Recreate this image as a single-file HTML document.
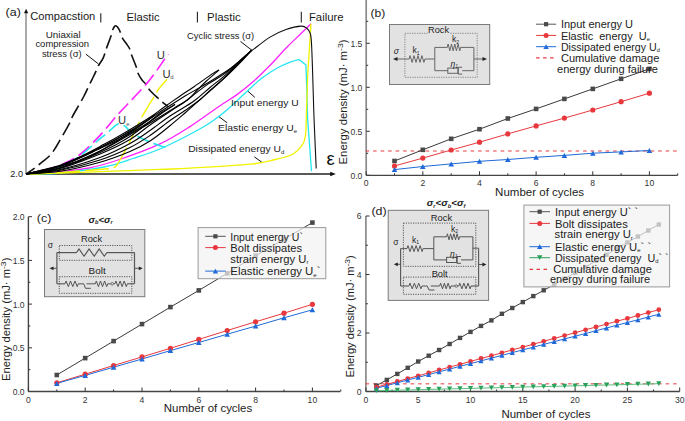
<!DOCTYPE html>
<html><head><meta charset="utf-8"><style>
html,body{margin:0;padding:0;background:#fff;overflow:hidden}
svg{display:block}
text{font-family:"Liberation Sans",sans-serif;white-space:pre}
</style></head><body>
<svg width="685" height="421" viewBox="0 0 685 421">
<rect width="685" height="421" fill="#fff"/>
<line x1="26" y1="174" x2="26" y2="12.5" stroke="#9a9a9a" stroke-width="1.7" />
<polygon points="26.1,8.8 24,13.2 28.2,13.2" fill="#111"/>
<line x1="26" y1="174" x2="331" y2="174" stroke="#222" stroke-width="1.3" />
<polygon points="335.8,174 330.2,171.8 330.2,176.2" fill="#111"/>
<text x="5.6" y="15.8" font-size="10" fill="#1a1a1a" textLength="15.27" lengthAdjust="spacingAndGlyphs" >(a)</text>
<text x="30.2" y="19.9" font-size="10.2" fill="#1a1a1a" textLength="65.16" lengthAdjust="spacingAndGlyphs" >Compacstion</text>
<line x1="100.8" y1="13.2" x2="100.8" y2="22.6" stroke="#222" stroke-width="1.1" />
<text x="126.4" y="21.0" font-size="10.2" fill="#1a1a1a" textLength="33.24" lengthAdjust="spacingAndGlyphs" >Elastic</text>
<line x1="197.4" y1="11.8" x2="197.4" y2="22.6" stroke="#222" stroke-width="1.1" />
<text x="207.0" y="21.0" font-size="10.2" fill="#1a1a1a" textLength="33.73" lengthAdjust="spacingAndGlyphs" >Plastic</text>
<line x1="301.3" y1="11.8" x2="301.3" y2="22.4" stroke="#222" stroke-width="1.1" />
<text x="308.9" y="20.9" font-size="10.2" fill="#1a1a1a" textLength="34.71" lengthAdjust="spacingAndGlyphs" >Failure</text>
<text x="10.3" y="177.2" font-size="8.5" fill="#1a1a1a" textLength="12.66" lengthAdjust="spacingAndGlyphs" >2.0</text>
<text x="63.15" y="37.8" font-size="9" fill="#1a1a1a" text-anchor="middle" textLength="34.94" lengthAdjust="spacingAndGlyphs" >Uniaxial</text>
<text x="35.4" y="47.0" font-size="9" fill="#1a1a1a" textLength="53.61" lengthAdjust="spacingAndGlyphs" >compression</text>
<text x="41.9" y="57.0" font-size="9" fill="#1a1a1a" textLength="39.82" lengthAdjust="spacingAndGlyphs" >stress (σ)</text>
<text x="187.1" y="38.5" font-size="9" fill="#1a1a1a" textLength="67.0" lengthAdjust="spacingAndGlyphs" >Cyclic stress (σ)</text>
<line x1="85.8" y1="54.1" x2="98.3" y2="63.8" stroke="#111" stroke-width="1" />
<line x1="240.5" y1="41.4" x2="252" y2="50.4" stroke="#111" stroke-width="1" />
<line x1="247.7" y1="91.1" x2="254.8" y2="97.3" stroke="#111" stroke-width="1" />
<line x1="218.5" y1="116.3" x2="227.2" y2="122.9" stroke="#111" stroke-width="1" />
<line x1="254.3" y1="156.8" x2="262.3" y2="162.6" stroke="#111" stroke-width="1" />
<path d="M26.0,174.0 C31.7,173.6 49.5,172.6 60.0,171.6 C70.5,170.6 79.3,169.9 89.0,168.0 C98.7,166.1 106.2,164.0 118.0,160.0 C129.8,156.0 148.0,149.5 160.0,143.9 C172.0,138.3 180.0,133.0 190.0,126.6 C200.0,120.2 212.2,111.0 220.0,105.7 C227.8,100.4 231.0,98.9 236.6,94.9 C242.2,90.9 247.8,86.5 253.3,81.6 C258.9,76.7 264.3,71.2 269.9,65.5 C275.4,59.8 281.6,52.7 286.6,47.5 C291.6,42.3 295.9,38.5 300.0,34.5 C304.1,30.6 309.2,25.6 311.0,23.8" fill="none" stroke="#ff22ff" stroke-width="1.3" stroke-linejoin="round" />
<path d="M26.0,174.0 C31.7,173.8 47.0,174.2 60.0,173.0 C73.0,171.8 91.8,169.4 104.0,167.0 C116.2,164.6 123.5,161.6 133.0,158.5 C142.5,155.4 150.2,153.2 161.0,148.5 C171.8,143.8 189.2,134.8 198.0,130.0 C206.8,125.2 209.1,123.4 214.0,120.0 C218.9,116.6 222.3,114.0 227.5,109.5 C232.7,105.0 239.3,98.4 245.0,93.2 C250.7,88.0 256.1,82.6 261.6,78.3 C267.1,74.0 273.2,70.3 278.2,67.5 C283.2,64.7 288.0,63.0 291.5,61.6 C295.0,60.2 297.9,59.8 299.2,59.4" fill="none" stroke="#22e6f0" stroke-width="1.3" stroke-linejoin="round" />
<polyline points="299.2,59.4 305.9,64.9 306.3,75.0 307.7,120.0 311.5,171.3" fill="none" stroke="#22e6f0" stroke-width="1.3" stroke-linejoin="round" />
<path d="M26.0,174.0 C31.7,173.8 47.7,173.5 60.0,173.1 C72.3,172.7 83.3,172.2 100.0,171.6 C116.7,171.0 145.0,170.0 160.0,169.4 C175.0,168.8 175.0,169.1 190.0,168.2 C205.0,167.3 235.8,165.6 250.0,164.2 C264.2,162.8 267.9,161.2 275.0,159.5 C282.1,157.8 288.1,156.8 292.7,154.2 C297.3,151.6 300.5,147.5 302.7,144.2 C304.9,140.9 305.0,138.2 305.6,134.2 C306.2,130.2 306.1,122.4 306.2,120.0" fill="none" stroke="#f2f200" stroke-width="1.3" stroke-linejoin="round" />
<polyline points="306.2,120.0 307.7,75.0 311.0,23.8" fill="none" stroke="#f2f200" stroke-width="1.3" stroke-linejoin="round" />
<path d="M26.0,174.0 C27.1,173.3 30.3,171.3 32.6,169.6 C34.9,167.9 36.8,166.3 39.7,164.0 C42.6,161.7 47.2,158.3 49.9,155.5 C52.6,152.7 53.9,150.3 56.0,147.0 C58.1,143.7 60.1,139.8 62.4,135.9 C64.7,132.0 67.8,126.5 69.5,123.3 C71.2,120.1 71.0,119.5 72.5,116.5 C74.0,113.5 76.7,109.0 78.6,105.6 C80.5,102.2 82.3,99.3 84.0,96.0 C85.7,92.7 87.5,88.6 89.0,85.5 C90.5,82.4 91.7,80.1 93.0,77.5 C94.3,74.9 95.6,72.1 96.6,70.0 C97.6,67.9 97.8,66.8 98.8,65.0 C99.8,63.2 101.5,61.3 102.6,59.2 C103.7,57.1 104.5,54.3 105.2,52.4 C105.9,50.5 105.6,50.9 106.6,48.0 C107.6,45.1 110.4,38.0 111.4,35.0 C112.4,32.0 112.0,31.5 112.6,30.0 C113.2,28.5 114.2,26.5 115.0,26.0 C115.8,25.5 116.6,26.0 117.5,27.1 C118.4,28.2 119.8,31.0 120.6,32.8 C121.4,34.6 121.3,36.0 122.3,37.8 C123.2,39.6 125.0,41.6 126.3,43.5 C127.6,45.4 129.1,47.4 129.9,49.2 C130.7,51.0 130.2,51.2 131.3,54.2 C132.4,57.2 135.2,63.9 136.3,67.0 C137.4,70.1 136.8,70.5 137.7,72.7 C138.6,74.9 140.7,78.2 142.0,80.0 C143.3,81.8 144.5,82.4 145.6,83.8 C146.7,85.2 147.2,86.9 148.4,88.5 C149.6,90.1 151.3,91.8 153.0,93.5 C154.7,95.2 157.0,97.2 158.4,98.5 C159.8,99.8 159.8,100.0 161.3,101.3 C162.9,102.6 166.6,105.5 167.7,106.3" fill="none" stroke="#111" stroke-width="1.6" stroke-linejoin="round" stroke-dasharray="14,5.4" stroke-dashoffset="3.59"/>
<path d="M26.0,174.0 C29.2,173.3 38.8,171.7 45.0,170.0 C51.2,168.3 57.2,166.6 63.0,164.0 C68.8,161.4 74.5,158.6 80.0,154.5 C85.5,150.4 91.9,143.7 96.2,139.4 C100.5,135.1 102.3,132.8 106.0,128.5 C109.7,124.2 114.8,117.9 118.5,113.8 C122.2,109.7 123.5,108.6 128.0,103.8 C132.5,99.0 140.9,90.3 145.6,84.9 C150.3,79.5 152.9,75.7 156.0,71.5 C159.1,67.3 161.9,62.9 164.0,60.0 C166.1,57.1 167.8,55.2 168.5,54.2" fill="none" stroke="#ff22ff" stroke-width="1.6" stroke-linejoin="round" stroke-dasharray="14,5.3" stroke-dashoffset="1.74"/>
<path d="M26.0,174.0 C29.2,173.4 38.8,172.1 45.0,170.6 C51.2,169.1 57.2,167.6 63.0,165.2 C68.8,162.8 74.1,160.2 80.0,156.0 C85.9,151.8 94.5,143.3 98.6,139.8 C102.7,136.3 103.0,136.6 104.7,135.2 C106.4,133.8 107.3,132.9 109.0,131.4 C110.7,129.9 113.0,127.4 114.7,126.1 C116.5,124.8 117.7,123.7 119.5,123.8 C121.3,123.9 123.8,125.3 125.6,126.6 C127.3,127.9 127.6,129.6 130.0,131.4 C132.4,133.2 136.1,135.5 140.0,137.5 C143.9,139.5 149.1,141.8 153.5,143.5 C157.9,145.2 164.3,147.2 166.5,148.0" fill="none" stroke="#22e6f0" stroke-width="1.6" stroke-linejoin="round" stroke-dasharray="12.5,5.1" stroke-dashoffset="10.04"/>
<path d="M26.0,174.0 C31.7,173.8 49.3,173.2 60.0,172.6 C70.7,172.0 82.5,170.8 90.0,170.2 C97.5,169.6 101.7,169.3 105.0,169.0 C108.3,168.7 108.6,168.8 110.0,168.6 C111.4,168.4 112.4,168.3 113.5,167.8 C114.6,167.3 115.1,167.4 116.5,165.5 C117.9,163.6 120.2,159.7 122.0,156.5 C123.8,153.3 126.2,148.8 127.5,146.2 C128.8,143.6 128.8,143.7 130.0,141.2 C131.2,138.7 133.4,134.3 135.0,131.0 C136.6,127.7 138.5,123.8 139.6,121.5 C140.7,119.2 140.2,119.9 141.6,117.4 C143.0,114.9 145.7,110.4 148.0,106.5 C150.3,102.6 154.1,96.7 155.7,94.1 C157.3,91.5 156.3,92.3 157.4,90.8 C158.5,89.3 160.4,86.9 162.0,85.0 C163.6,83.1 166.2,80.2 167.0,79.2" fill="none" stroke="#f2f200" stroke-width="1.4" stroke-linejoin="round" stroke-dasharray="24,5" stroke-dashoffset="28.05"/>
<path d="M26.0,174.0 C31.7,172.6 51.0,168.2 60.0,165.3 C69.0,162.4 73.3,159.9 80.0,156.8 C86.7,153.7 93.3,150.1 100.0,146.5 C106.7,142.9 111.7,140.4 120.0,135.5 C128.3,130.6 142.7,121.9 150.0,117.2 C157.3,112.5 158.6,111.0 163.6,107.5 C168.6,104.0 174.7,99.7 179.8,96.2 C184.9,92.7 188.5,90.5 194.0,86.7 C199.5,82.9 208.8,76.2 213.0,73.4 C217.2,70.6 218.0,70.6 219.0,70.0" fill="none" stroke="#000" stroke-width="1.1" stroke-linejoin="round" />
<path d="M219.0,70.0 C216.9,71.8 210.1,77.6 206.4,81.0 C202.7,84.4 200.1,87.3 196.9,90.5 C193.7,93.7 191.1,97.2 187.4,100.0 C183.8,102.8 181.2,103.7 175.0,107.5 C168.8,111.3 157.5,118.5 150.0,123.0 C142.5,127.5 138.3,129.8 130.0,134.5 C121.7,139.2 111.7,145.5 100.0,151.0 C88.3,156.5 72.3,163.7 60.0,167.5 C47.7,171.3 31.7,172.9 26.0,174.0" fill="none" stroke="#000" stroke-width="1.1" stroke-linejoin="round" />
<path d="M251.8,50.1 C249.8,51.8 244.5,56.5 240.0,60.4 C235.5,64.3 230.3,69.5 225.0,73.4 C219.7,77.3 213.0,80.7 208.3,83.9 C203.6,87.1 200.9,89.4 196.9,92.4 C192.9,95.4 189.0,98.8 184.5,102.0 C180.0,105.2 175.8,107.7 170.0,111.5 C164.2,115.3 156.7,120.3 150.0,125.0 C143.3,129.7 138.3,134.7 130.0,139.5 C121.7,144.3 111.7,149.2 100.0,154.0 C88.3,158.8 72.3,165.2 60.0,168.5 C47.7,171.8 31.7,173.1 26.0,174.0" fill="none" stroke="#000" stroke-width="1.1" stroke-linejoin="round" />
<path d="M251.8,50.1 C249.8,52.0 244.5,57.0 240.0,61.2 C235.5,65.4 230.0,70.9 225.0,75.3 C220.0,79.7 215.2,83.2 210.0,87.5 C204.8,91.8 200.7,96.2 194.0,101.0 C187.3,105.8 177.3,111.1 170.0,116.0 C162.7,120.9 156.7,125.9 150.0,130.5 C143.3,135.1 138.3,139.0 130.0,143.5 C121.7,148.0 111.7,153.2 100.0,157.5 C88.3,161.8 72.3,166.8 60.0,169.5 C47.7,172.2 31.7,173.2 26.0,174.0" fill="none" stroke="#000" stroke-width="1.1" stroke-linejoin="round" />
<path d="M251.8,50.1 C249.8,52.1 244.5,57.5 240.0,62.0 C235.5,66.5 230.0,72.5 225.0,77.2 C220.0,82.0 214.2,86.7 210.0,90.5 C205.8,94.3 203.9,96.7 199.7,100.0 C195.5,103.3 189.9,107.1 185.0,110.5 C180.1,113.9 175.8,116.3 170.0,120.5 C164.2,124.7 156.7,131.0 150.0,135.5 C143.3,140.0 138.3,143.4 130.0,147.5 C121.7,151.6 111.7,156.2 100.0,160.0 C88.3,163.8 72.3,168.0 60.0,170.3 C47.7,172.6 31.7,173.4 26.0,174.0" fill="none" stroke="#000" stroke-width="1.1" stroke-linejoin="round" />
<path d="M251.8,50.1 C249.8,52.2 244.9,57.8 240.0,62.8 C235.1,67.8 229.0,73.9 222.3,80.0 C215.6,86.1 206.2,94.1 200.0,99.6 C193.8,105.1 190.0,108.7 185.0,113.0 C180.0,117.3 175.8,121.0 170.0,125.7 C164.2,130.4 156.7,136.7 150.0,141.0 C143.3,145.3 138.3,148.0 130.0,151.5 C121.7,155.0 111.7,158.9 100.0,162.2 C88.3,165.5 72.3,169.3 60.0,171.3 C47.7,173.3 31.7,173.6 26.0,174.0" fill="none" stroke="#000" stroke-width="1.1" stroke-linejoin="round" />
<path d="M26.0,174.0 C31.7,172.7 47.7,170.3 60.0,166.0 C72.3,161.7 88.3,153.8 100.0,148.0 C111.7,142.2 121.7,135.9 130.0,131.0 C138.3,126.1 143.3,122.8 150.0,118.5 C156.7,114.2 164.2,109.2 170.0,105.5 C175.8,101.8 180.0,99.0 185.0,96.0 C190.0,93.0 195.0,90.4 200.0,87.5 C205.0,84.6 210.0,81.6 215.0,78.5 C220.0,75.4 225.8,71.8 230.0,68.8 C234.2,65.8 236.4,63.9 240.0,60.8 C243.6,57.7 249.8,51.9 251.8,50.1" fill="none" stroke="#000" stroke-width="1.1" stroke-linejoin="round" />
<path d="M26.0,174.0 C31.7,172.7 47.7,170.4 60.0,166.2 C72.3,162.0 88.3,154.0 100.0,148.6 C111.7,143.2 121.7,138.0 130.0,133.5 C138.3,129.0 144.2,125.2 150.0,121.5 C155.8,117.8 160.8,113.8 165.0,111.0 C169.2,108.2 173.3,105.6 175.0,104.5" fill="none" stroke="#000" stroke-width="1.1" stroke-linejoin="round" />
<path d="M175.0,104.5 C172.5,106.0 167.5,108.2 160.0,113.5 C152.5,118.8 140.0,130.0 130.0,136.5 C120.0,143.0 111.7,147.2 100.0,152.5 C88.3,157.8 72.3,164.4 60.0,168.0 C47.7,171.6 31.7,173.0 26.0,174.0" fill="none" stroke="#000" stroke-width="1.1" stroke-linejoin="round" />
<path d="M26.0,174.0 C31.7,172.6 47.7,170.2 60.0,165.8 C72.3,161.4 88.3,153.3 100.0,147.6 C111.7,141.9 122.5,136.1 130.0,131.8 C137.5,127.5 140.8,124.8 145.0,122.0 C149.2,119.2 153.3,116.2 155.0,115.0" fill="none" stroke="#000" stroke-width="1.1" stroke-linejoin="round" />
<path d="M155.0,115.0 C152.5,116.8 147.5,121.0 140.0,126.0 C132.5,131.1 120.0,139.6 110.0,145.3 C100.0,151.0 94.0,155.6 80.0,160.4 C66.0,165.2 35.0,171.7 26.0,174.0" fill="none" stroke="#000" stroke-width="1.1" stroke-linejoin="round" />
<path d="M252.0,50.5 C255.0,48.3 264.3,40.6 270.0,37.1 C275.7,33.6 280.8,31.3 286.0,29.5 C291.2,27.7 297.8,26.3 301.3,26.1 C304.8,25.9 305.5,27.3 307.0,28.5 C308.5,29.7 309.6,31.0 310.3,33.5 C311.1,36.0 311.1,36.6 311.5,43.5 C311.9,50.4 312.3,62.2 312.7,75.0 C313.1,87.8 313.5,104.4 314.1,120.0 C314.7,135.6 315.9,160.3 316.2,168.4" fill="none" stroke="#111" stroke-width="1.1" stroke-linejoin="round" />
<text x="231.0" y="105.6" font-size="9.6" fill="#1a1a1a" textLength="67.62" lengthAdjust="spacingAndGlyphs" >Input energy U</text>
<text x="218.1" y="131.1" font-size="9.6" fill="#1a1a1a" textLength="79.01" lengthAdjust="spacingAndGlyphs" >Elastic energy U<tspan font-size="5.5" dy="1.5">e</tspan></text>
<text x="188.2" y="152" font-size="9.6" fill="#1a1a1a" textLength="96.01" lengthAdjust="spacingAndGlyphs" >Dissipated energy U<tspan font-size="5.5" dy="1.5">d</tspan></text>
<text x="156.7" y="58.6" font-size="10.2" fill="#333" textLength="8.08" lengthAdjust="spacingAndGlyphs" >U</text>
<text x="162.4" y="77.8" font-size="10.2" fill="#333" textLength="8.08" lengthAdjust="spacingAndGlyphs" >U</text>
<text x="170.3" y="79.2" font-size="6" fill="#555" >d</text>
<text x="117.9" y="123.6" font-size="10.2" fill="#333" textLength="8.08" lengthAdjust="spacingAndGlyphs" >U</text>
<text x="126.3" y="125.6" font-size="6" fill="#555" >e</text>
<text x="326.5" y="165.3" font-size="18.5" fill="#111" >ε</text>
<rect x="389.5" y="24.5" width="100.2" height="60" fill="#e2e2e2" stroke="#7a7a7a" stroke-width="1"/>
<rect x="404.9" y="33.3" width="72.3" height="44" fill="none" stroke="#7a7a7a" stroke-width="0.9" stroke-dasharray="1.2,1.2"/>
<rect x="428" y="26" width="22" height="8.5" fill="#e2e2e2"/>
<text x="428.0" y="33" font-size="9.4" fill="#222" textLength="21.05" lengthAdjust="spacingAndGlyphs" >Rock</text>
<text x="393.8" y="54" font-size="8.5" fill="#222" font-style="italic">σ</text>
<line x1="396" y1="59" x2="409.1" y2="59" stroke="#666" stroke-width="1" />
<polygon points="393,59 397.5,57 397.5,61" fill="#222"/>
<polyline points="409.1,59.0 410.1,55.6 412.1,62.4 414.0,55.6 416.0,62.4 418.0,55.6 420.0,62.4 421.9,55.6 423.9,62.4 424.9,59.0" fill="none" stroke="#666" stroke-width="1" stroke-linejoin="round" />
<line x1="424.9" y1="59" x2="434.8" y2="59" stroke="#666" stroke-width="1" />
<line x1="434.8" y1="47.4" x2="434.8" y2="70.7" stroke="#666" stroke-width="1" />
<line x1="434.8" y1="47.4" x2="447.3" y2="47.4" stroke="#666" stroke-width="1" />
<polyline points="447.3,47.4 448.1,44.0 449.8,50.8 451.5,44.0 453.1,50.8 454.8,44.0 456.4,50.8 458.1,44.0 459.8,50.8 460.6,47.4" fill="none" stroke="#666" stroke-width="1" stroke-linejoin="round" />
<line x1="460.6" y1="47.4" x2="473.9" y2="47.4" stroke="#666" stroke-width="1" />
<line x1="473.9" y1="47.4" x2="473.9" y2="70.7" stroke="#666" stroke-width="1" />
<line x1="434.8" y1="70.7" x2="447.8" y2="70.7" stroke="#666" stroke-width="1" />
<rect x="447.8" y="68.10000000000001" width="10.3" height="5.2" fill="none" stroke="#666" stroke-width="1"/>
<line x1="458.1" y1="67.3" x2="458.1" y2="74.10000000000001" stroke="#666" stroke-width="1.2" />
<line x1="458.1" y1="67.3" x2="462.2" y2="67.3" stroke="#666" stroke-width="1" />
<line x1="458.1" y1="74.10000000000001" x2="462.2" y2="74.10000000000001" stroke="#666" stroke-width="1" />
<line x1="462.2" y1="70.7" x2="473.9" y2="70.7" stroke="#666" stroke-width="1" />
<line x1="473.9" y1="59" x2="484" y2="59" stroke="#666" stroke-width="1" />
<polygon points="487,59 482.5,57 482.5,61" fill="#222"/>
<text x="412.5" y="53" font-size="8.5" fill="#222" >k<tspan font-size="5" dy="1.5">1</tspan></text>
<text x="452" y="42.3" font-size="8.5" fill="#222" >k<tspan font-size="5" dy="1.5">2</tspan></text>
<text x="450.5" y="66.5" font-size="8.5" fill="#222" font-style="italic">η<tspan font-size="5" dy="1.5">1</tspan></text>
<line x1="366.2" y1="0" x2="366.2" y2="175.3" stroke="#8a8a8a" stroke-width="1.7" />
<line x1="366.2" y1="175.3" x2="369.8" y2="175.3" stroke="#333" stroke-width="1" />
<line x1="366.2" y1="131.3" x2="369.8" y2="131.3" stroke="#333" stroke-width="1" />
<line x1="366.2" y1="87.30000000000001" x2="369.8" y2="87.30000000000001" stroke="#333" stroke-width="1" />
<line x1="366.2" y1="43.30000000000001" x2="369.8" y2="43.30000000000001" stroke="#333" stroke-width="1" />
<line x1="366.2" y1="153.3" x2="368.2" y2="153.3" stroke="#333" stroke-width="1" />
<line x1="366.2" y1="109.30000000000001" x2="368.2" y2="109.30000000000001" stroke="#333" stroke-width="1" />
<line x1="366.2" y1="65.30000000000001" x2="368.2" y2="65.30000000000001" stroke="#333" stroke-width="1" />
<line x1="366.2" y1="21.30000000000001" x2="368.2" y2="21.30000000000001" stroke="#333" stroke-width="1" />
<text x="362.4" y="178.70000000000002" font-size="8.6" fill="#333" text-anchor="end" >0.0</text>
<text x="362.4" y="134.70000000000002" font-size="8.6" fill="#333" text-anchor="end" >0.5</text>
<text x="362.4" y="90.70000000000002" font-size="8.6" fill="#333" text-anchor="end" >1.0</text>
<text x="362.4" y="46.70000000000001" font-size="8.6" fill="#333" text-anchor="end" >1.5</text>
<line x1="366.2" y1="175.3" x2="677.7" y2="175.3" stroke="#444" stroke-width="1.3" />
<line x1="366.2" y1="175.3" x2="366.2" y2="171.3" stroke="#333" stroke-width="1" />
<line x1="422.84" y1="175.3" x2="422.84" y2="171.3" stroke="#333" stroke-width="1" />
<line x1="479.48" y1="175.3" x2="479.48" y2="171.3" stroke="#333" stroke-width="1" />
<line x1="536.12" y1="175.3" x2="536.12" y2="171.3" stroke="#333" stroke-width="1" />
<line x1="592.76" y1="175.3" x2="592.76" y2="171.3" stroke="#333" stroke-width="1" />
<line x1="649.4" y1="175.3" x2="649.4" y2="171.3" stroke="#333" stroke-width="1" />
<line x1="394.52" y1="175.3" x2="394.52" y2="173.3" stroke="#333" stroke-width="1" />
<line x1="451.15999999999997" y1="175.3" x2="451.15999999999997" y2="173.3" stroke="#333" stroke-width="1" />
<line x1="507.79999999999995" y1="175.3" x2="507.79999999999995" y2="173.3" stroke="#333" stroke-width="1" />
<line x1="564.44" y1="175.3" x2="564.44" y2="173.3" stroke="#333" stroke-width="1" />
<line x1="621.0799999999999" y1="175.3" x2="621.0799999999999" y2="173.3" stroke="#333" stroke-width="1" />
<line x1="677.72" y1="175.3" x2="677.72" y2="173.3" stroke="#333" stroke-width="1" />
<text x="366.2" y="185.6" font-size="8.6" fill="#333" text-anchor="middle" >0</text>
<text x="422.84" y="185.6" font-size="8.6" fill="#333" text-anchor="middle" >2</text>
<text x="479.48" y="185.6" font-size="8.6" fill="#333" text-anchor="middle" >4</text>
<text x="536.12" y="185.6" font-size="8.6" fill="#333" text-anchor="middle" >6</text>
<text x="592.76" y="185.6" font-size="8.6" fill="#333" text-anchor="middle" >8</text>
<text x="649.4" y="185.6" font-size="8.6" fill="#333" text-anchor="middle" >10</text>
<text x="495.1" y="196" font-size="10.2" fill="#222" textLength="89.01" lengthAdjust="spacingAndGlyphs" >Number of cycles</text>
<text transform="translate(346.8,164.5) rotate(-90)" x="0" y="0" font-size="10.2" fill="#222" textLength="125.10000000000001" lengthAdjust="spacingAndGlyphs">Energy density (mJ· m<tspan font-size="7.8" dy="-4">-3</tspan><tspan dy="4">)</tspan></text>
<text x="370.5" y="17.3" font-size="10.2" fill="#222" textLength="14.82" lengthAdjust="spacingAndGlyphs" >(b)</text>
<line x1="365.6" y1="151.0" x2="678" y2="151.0" stroke="#e8383d" stroke-width="1.6" stroke-dasharray="3.6,3.9" opacity="0.65"/>
<polyline points="394.5,161.0 422.8,149.8 451.2,138.8 479.5,129.2 507.8,118.5 536.1,108.9 564.4,98.9 592.8,88.9 621.1,78.8 649.4,68.9" fill="none" stroke="#3a3a3a" stroke-width="1" stroke-linejoin="round" />
<polyline points="394.5,166.0 422.8,158.1 451.2,150.0 479.5,142.2 507.8,133.9 536.1,125.9 564.4,118.1 592.8,110.0 621.1,101.7 649.4,93.2" fill="none" stroke="#e8383d" stroke-width="1" stroke-linejoin="round" />
<polyline points="394.5,169.6 422.8,166.5 451.2,163.9 479.5,161.3 507.8,159.5 536.1,157.3 564.4,155.4 592.8,153.2 621.1,151.9 649.4,150.5" fill="none" stroke="#1f6ad8" stroke-width="1" stroke-linejoin="round" />
<rect x="392.2" y="158.7" width="4.6" height="4.6" fill="#4a4a4a"/>
<rect x="420.5" y="147.5" width="4.6" height="4.6" fill="#4a4a4a"/>
<rect x="448.9" y="136.5" width="4.6" height="4.6" fill="#4a4a4a"/>
<rect x="477.2" y="126.9" width="4.6" height="4.6" fill="#4a4a4a"/>
<rect x="505.5" y="116.2" width="4.6" height="4.6" fill="#4a4a4a"/>
<rect x="533.8" y="106.6" width="4.6" height="4.6" fill="#4a4a4a"/>
<rect x="562.1" y="96.6" width="4.6" height="4.6" fill="#4a4a4a"/>
<rect x="590.5" y="86.6" width="4.6" height="4.6" fill="#4a4a4a"/>
<rect x="618.8" y="76.5" width="4.6" height="4.6" fill="#4a4a4a"/>
<rect x="647.1" y="66.6" width="4.6" height="4.6" fill="#4a4a4a"/>
<circle cx="394.5" cy="166.0" r="2.6" fill="#e8383d"/>
<circle cx="422.8" cy="158.1" r="2.6" fill="#e8383d"/>
<circle cx="451.2" cy="150.0" r="2.6" fill="#e8383d"/>
<circle cx="479.5" cy="142.2" r="2.6" fill="#e8383d"/>
<circle cx="507.8" cy="133.9" r="2.6" fill="#e8383d"/>
<circle cx="536.1" cy="125.9" r="2.6" fill="#e8383d"/>
<circle cx="564.4" cy="118.1" r="2.6" fill="#e8383d"/>
<circle cx="592.8" cy="110.0" r="2.6" fill="#e8383d"/>
<circle cx="621.1" cy="101.7" r="2.6" fill="#e8383d"/>
<circle cx="649.4" cy="93.2" r="2.6" fill="#e8383d"/>
<polygon points="391.7,172.1 397.3,172.1 394.5,167.1" fill="#1f6ad8"/>
<polygon points="420.0,169.0 425.6,169.0 422.8,164.0" fill="#1f6ad8"/>
<polygon points="448.4,166.4 454.0,166.4 451.2,161.4" fill="#1f6ad8"/>
<polygon points="476.7,163.8 482.3,163.8 479.5,158.8" fill="#1f6ad8"/>
<polygon points="505.0,162.0 510.6,162.0 507.8,157.0" fill="#1f6ad8"/>
<polygon points="533.3,159.8 538.9,159.8 536.1,154.8" fill="#1f6ad8"/>
<polygon points="561.6,157.9 567.2,157.9 564.4,152.9" fill="#1f6ad8"/>
<polygon points="590.0,155.7 595.6,155.7 592.8,150.7" fill="#1f6ad8"/>
<polygon points="618.3,154.4 623.9,154.4 621.1,149.4" fill="#1f6ad8"/>
<polygon points="646.6,153.0 652.2,153.0 649.4,148.0" fill="#1f6ad8"/>
<line x1="536.1" y1="24.2" x2="556.2" y2="24.2" stroke="#555" stroke-width="1" />
<rect x="544.0" y="22.1" width="4.2" height="4.2" fill="#4a4a4a"/>
<line x1="536.1" y1="35.4" x2="556.2" y2="35.4" stroke="#e8383d" stroke-width="1" />
<circle cx="546.1" cy="35.4" r="2.5" fill="#e8383d"/>
<line x1="536.1" y1="46.7" x2="556.2" y2="46.7" stroke="#1f6ad8" stroke-width="1" />
<polygon points="543.4,49.1 548.8,49.1 546.1,44.3" fill="#1f6ad8"/>
<line x1="536.1" y1="57.9" x2="556.2" y2="57.9" stroke="#e8383d" stroke-width="1.2" stroke-dasharray="3.5,3.5"/>
<text x="560.9" y="28.4" font-size="10.4" fill="#222" textLength="72.16" lengthAdjust="spacingAndGlyphs" >Input energy U</text>
<text x="560.9" y="39.7" font-size="10.4" fill="#222" textLength="89.01" lengthAdjust="spacingAndGlyphs" >Elastic  energy  U<tspan font-size="5.5" dy="1.5">e</tspan></text>
<text x="560.9" y="50.9" font-size="10.4" fill="#222" textLength="99.01" lengthAdjust="spacingAndGlyphs" >Dissipated energy U<tspan font-size="5.5" dy="1.5">d</tspan></text>
<text x="560.9" y="61.9" font-size="10.4" fill="#222" textLength="98.43" lengthAdjust="spacingAndGlyphs" >Cumulative damage</text>
<text x="557.0" y="72.9" font-size="10.4" fill="#222" textLength="100.8" lengthAdjust="spacingAndGlyphs" >energy during failure</text>
<rect x="44.5" y="229.5" width="100.3" height="67.2" fill="#e2e2e2" stroke="#7a7a7a" stroke-width="1"/>
<rect x="59.3" y="245.5" width="72.5" height="14.8" fill="none" stroke="#4a4a4a" stroke-width="0.9" stroke-dasharray="1.2,1.2"/>
<rect x="59.3" y="276.7" width="72.5" height="16.6" fill="none" stroke="#4a4a4a" stroke-width="0.9" stroke-dasharray="1.2,1.2"/>
<text x="80.9" y="241.9" font-size="9.4" fill="#222" textLength="21.26" lengthAdjust="spacingAndGlyphs" >Rock</text>
<text x="88.6" y="274" font-size="9.4" fill="#222" textLength="17.03" lengthAdjust="spacingAndGlyphs" >Bolt</text>
<text x="47.8" y="248.3" font-size="8.5" fill="#222" >σ</text>
<line x1="56.9" y1="252.6" x2="76.5" y2="252.6" stroke="#555" stroke-width="1.2" />
<polyline points="76.5,252.6 79.0,248.9 84.1,256.3 89.1,248.9 94.2,256.3 99.2,248.9 104.3,256.3 106.8,252.6" fill="none" stroke="#555" stroke-width="1.1" stroke-linejoin="round" />
<line x1="106.8" y1="252.6" x2="134.5" y2="252.6" stroke="#555" stroke-width="1.2" />
<line x1="56.9" y1="252.6" x2="56.9" y2="283.8" stroke="#555" stroke-width="1.2" />
<line x1="134.5" y1="252.6" x2="134.5" y2="283.8" stroke="#555" stroke-width="1.2" />
<line x1="52" y1="268.3" x2="56.9" y2="268.3" stroke="#555" stroke-width="1" />
<polygon points="49.6,268.3 53.5,266.4 53.5,270.2" fill="#222"/>
<line x1="134.5" y1="268.3" x2="139.5" y2="268.3" stroke="#555" stroke-width="1" />
<polygon points="142.7,268.3 138.8,266.4 138.8,270.2" fill="#222"/>
<line x1="56.9" y1="283.8" x2="65" y2="283.8" stroke="#555" stroke-width="1.1" />
<polyline points="65.0,283.8 66.1,281.0 68.3,286.6 70.5,281.0 72.8,286.6 75.0,281.0 77.2,286.6 78.3,283.8" fill="none" stroke="#555" stroke-width="1" stroke-linejoin="round" />
<polyline points="78.3,283.8 83.7,283.8 85.5,288.3 90.8,288.3" fill="none" stroke="#555" stroke-width="1" stroke-linejoin="round" />
<line x1="86.5" y1="283.8" x2="95.3" y2="283.8" stroke="#555" stroke-width="1" />
<polyline points="95.3,283.8 96.3,281.0 98.4,286.6 100.5,281.0 102.5,286.6 104.6,281.0 106.7,286.6 107.7,283.8" fill="none" stroke="#555" stroke-width="1" stroke-linejoin="round" />
<line x1="107.7" y1="283.8" x2="110.8" y2="283.8" stroke="#555" stroke-width="1" />
<circle cx="112.2" cy="283.8" r="1.3" fill="none" stroke="#555" stroke-width="0.8"/>
<line x1="113.6" y1="283.8" x2="114.9" y2="283.8" stroke="#555" stroke-width="1" />
<polyline points="114.9,283.8 115.9,281.0 118.0,286.6 120.1,281.0 122.1,286.6 124.2,281.0 126.3,286.6 127.3,283.8" fill="none" stroke="#555" stroke-width="1" stroke-linejoin="round" />
<line x1="127.3" y1="283.8" x2="134.5" y2="283.8" stroke="#555" stroke-width="1.1" />
<text x="88.6" y="222.5" font-size="8.6" fill="#222" textLength="24.1" lengthAdjust="spacingAndGlyphs" font-style="italic" font-weight="bold">σ<tspan font-size="5" dy="1.5">b</tspan><tspan dy="-1.5">&lt;</tspan>σ<tspan font-size="5" dy="1.5">r</tspan></text>
<text x="36.8" y="221.5" font-size="10.2" fill="#222" textLength="14.52" lengthAdjust="spacingAndGlyphs" >(c)</text>
<line x1="28.4" y1="216.7" x2="28.4" y2="391.5" stroke="#444" stroke-width="1.4" />
<line x1="28.4" y1="391.5" x2="32.0" y2="391.5" stroke="#333" stroke-width="1" />
<line x1="28.4" y1="347.8" x2="32.0" y2="347.8" stroke="#333" stroke-width="1" />
<line x1="28.4" y1="304.1" x2="32.0" y2="304.1" stroke="#333" stroke-width="1" />
<line x1="28.4" y1="260.4" x2="32.0" y2="260.4" stroke="#333" stroke-width="1" />
<line x1="28.4" y1="216.7" x2="32.0" y2="216.7" stroke="#333" stroke-width="1" />
<line x1="28.4" y1="369.65" x2="30.4" y2="369.65" stroke="#333" stroke-width="1" />
<line x1="28.4" y1="325.95" x2="30.4" y2="325.95" stroke="#333" stroke-width="1" />
<line x1="28.4" y1="282.25" x2="30.4" y2="282.25" stroke="#333" stroke-width="1" />
<line x1="28.4" y1="238.54999999999998" x2="30.4" y2="238.54999999999998" stroke="#333" stroke-width="1" />
<text x="24.6" y="394.9" font-size="8.6" fill="#333" text-anchor="end" >0.0</text>
<text x="24.6" y="351.2" font-size="8.6" fill="#333" text-anchor="end" >0.5</text>
<text x="24.6" y="307.5" font-size="8.6" fill="#333" text-anchor="end" >1.0</text>
<text x="24.6" y="263.79999999999995" font-size="8.6" fill="#333" text-anchor="end" >1.5</text>
<text x="24.6" y="220.1" font-size="8.6" fill="#333" text-anchor="end" >2.0</text>
<line x1="28.4" y1="391.5" x2="340.4" y2="391.5" stroke="#444" stroke-width="1.3" />
<line x1="28.4" y1="391.5" x2="28.4" y2="387.5" stroke="#333" stroke-width="1" />
<line x1="85.19999999999999" y1="391.5" x2="85.19999999999999" y2="387.5" stroke="#333" stroke-width="1" />
<line x1="142.0" y1="391.5" x2="142.0" y2="387.5" stroke="#333" stroke-width="1" />
<line x1="198.79999999999998" y1="391.5" x2="198.79999999999998" y2="387.5" stroke="#333" stroke-width="1" />
<line x1="255.6" y1="391.5" x2="255.6" y2="387.5" stroke="#333" stroke-width="1" />
<line x1="312.4" y1="391.5" x2="312.4" y2="387.5" stroke="#333" stroke-width="1" />
<line x1="56.8" y1="391.5" x2="56.8" y2="389.5" stroke="#333" stroke-width="1" />
<line x1="113.6" y1="391.5" x2="113.6" y2="389.5" stroke="#333" stroke-width="1" />
<line x1="170.4" y1="391.5" x2="170.4" y2="389.5" stroke="#333" stroke-width="1" />
<line x1="227.2" y1="391.5" x2="227.2" y2="389.5" stroke="#333" stroke-width="1" />
<line x1="284.0" y1="391.5" x2="284.0" y2="389.5" stroke="#333" stroke-width="1" />
<line x1="340.79999999999995" y1="391.5" x2="340.79999999999995" y2="389.5" stroke="#333" stroke-width="1" />
<text x="28.4" y="402.6" font-size="8.6" fill="#333" text-anchor="middle" >0</text>
<text x="85.2" y="402.6" font-size="8.6" fill="#333" text-anchor="middle" >2</text>
<text x="142.0" y="402.6" font-size="8.6" fill="#333" text-anchor="middle" >4</text>
<text x="198.8" y="402.6" font-size="8.6" fill="#333" text-anchor="middle" >6</text>
<text x="255.6" y="402.6" font-size="8.6" fill="#333" text-anchor="middle" >8</text>
<text x="312.4" y="402.6" font-size="8.6" fill="#333" text-anchor="middle" >10</text>
<text x="163.8" y="411.5" font-size="10.2" fill="#222" textLength="88.42" lengthAdjust="spacingAndGlyphs" >Number of cycles</text>
<text transform="translate(9.8,381.0) rotate(-90)" x="0" y="0" font-size="10.2" fill="#222" textLength="123.4" lengthAdjust="spacingAndGlyphs">Energy density (mJ· m<tspan font-size="7.8" dy="-4">-3</tspan><tspan dy="4">)</tspan></text>
<polyline points="56.8,375.0 85.2,358.1 113.6,341.1 142.0,324.1 170.4,307.1 198.8,290.4 227.2,273.4 255.6,255.7 284.0,239.3 312.4,222.6" fill="none" stroke="#3a3a3a" stroke-width="1" stroke-linejoin="round" />
<rect x="54.5" y="372.7" width="4.6" height="4.6" fill="#4a4a4a"/>
<rect x="82.9" y="355.8" width="4.6" height="4.6" fill="#4a4a4a"/>
<rect x="111.3" y="338.8" width="4.6" height="4.6" fill="#4a4a4a"/>
<rect x="139.7" y="321.8" width="4.6" height="4.6" fill="#4a4a4a"/>
<rect x="168.1" y="304.8" width="4.6" height="4.6" fill="#4a4a4a"/>
<rect x="196.5" y="288.1" width="4.6" height="4.6" fill="#4a4a4a"/>
<rect x="224.9" y="271.1" width="4.6" height="4.6" fill="#4a4a4a"/>
<rect x="253.3" y="253.4" width="4.6" height="4.6" fill="#4a4a4a"/>
<rect x="281.7" y="237.0" width="4.6" height="4.6" fill="#4a4a4a"/>
<rect x="310.1" y="220.3" width="4.6" height="4.6" fill="#4a4a4a"/>
<polyline points="56.8,382.8 85.2,374.2 113.6,365.5 142.0,356.9 170.4,348.3 198.8,339.4 227.2,330.5 255.6,321.8 284.0,313.2 312.4,304.3" fill="none" stroke="#e8383d" stroke-width="1" stroke-linejoin="round" />
<polyline points="56.8,383.4 85.2,375.4 113.6,367.2 142.0,359.0 170.4,350.6 198.8,342.5 227.2,334.2 255.6,326.1 284.0,317.8 312.4,309.8" fill="none" stroke="#1f6ad8" stroke-width="1" stroke-linejoin="round" />
<circle cx="56.8" cy="382.8" r="2.6" fill="#e8383d"/>
<circle cx="85.2" cy="374.2" r="2.6" fill="#e8383d"/>
<circle cx="113.6" cy="365.5" r="2.6" fill="#e8383d"/>
<circle cx="142.0" cy="356.9" r="2.6" fill="#e8383d"/>
<circle cx="170.4" cy="348.3" r="2.6" fill="#e8383d"/>
<circle cx="198.8" cy="339.4" r="2.6" fill="#e8383d"/>
<circle cx="227.2" cy="330.5" r="2.6" fill="#e8383d"/>
<circle cx="255.6" cy="321.8" r="2.6" fill="#e8383d"/>
<circle cx="284.0" cy="313.2" r="2.6" fill="#e8383d"/>
<circle cx="312.4" cy="304.3" r="2.6" fill="#e8383d"/>
<polygon points="54.0,385.9 59.6,385.9 56.8,380.9" fill="#1f6ad8"/>
<polygon points="82.4,377.9 88.0,377.9 85.2,372.9" fill="#1f6ad8"/>
<polygon points="110.8,369.7 116.4,369.7 113.6,364.7" fill="#1f6ad8"/>
<polygon points="139.2,361.5 144.8,361.5 142.0,356.5" fill="#1f6ad8"/>
<polygon points="167.6,353.1 173.2,353.1 170.4,348.1" fill="#1f6ad8"/>
<polygon points="196.0,345.0 201.6,345.0 198.8,340.0" fill="#1f6ad8"/>
<polygon points="224.4,336.7 230.0,336.7 227.2,331.7" fill="#1f6ad8"/>
<polygon points="252.8,328.6 258.4,328.6 255.6,323.6" fill="#1f6ad8"/>
<polygon points="281.2,320.3 286.8,320.3 284.0,315.3" fill="#1f6ad8"/>
<polygon points="309.6,312.3 315.2,312.3 312.4,307.3" fill="#1f6ad8"/>
<rect x="198.1" y="227.6" width="127.7" height="51.1" fill="#f2f2f2" fill-opacity="0.72" stroke="#9a9a9a" stroke-width="1"/>
<line x1="205.2" y1="236.3" x2="225.7" y2="236.3" stroke="#555" stroke-width="1" />
<rect x="213.3" y="234.2" width="4.2" height="4.2" fill="#4a4a4a"/>
<line x1="205.2" y1="247.6" x2="225.7" y2="247.6" stroke="#e8383d" stroke-width="1" />
<circle cx="215.4" cy="247.6" r="2.5" fill="#e8383d"/>
<line x1="205.2" y1="271.1" x2="225.7" y2="271.1" stroke="#1f6ad8" stroke-width="1" />
<polygon points="212.7,273.5 218.1,273.5 215.4,268.7" fill="#1f6ad8"/>
<text x="230.3" y="240.9" font-size="10.4" fill="#222" textLength="72.65" lengthAdjust="spacingAndGlyphs" >Input energy U`</text>
<text x="230.3" y="251.9" font-size="10.4" fill="#222" textLength="71.81" lengthAdjust="spacingAndGlyphs" >Bolt dissipates</text>
<text x="230.3" y="262.8" font-size="10.4" fill="#222" textLength="78.09" lengthAdjust="spacingAndGlyphs" >strain energy U<tspan font-size="5.5" dy="1.5">r</tspan></text>
<text x="230.3" y="275.4" font-size="10.4" fill="#222" textLength="90.22" lengthAdjust="spacingAndGlyphs" >Elastic energy U<tspan font-size="5.5" dy="1.5">e</tspan><tspan dy="-1.5">`</tspan></text>
<rect x="388.2" y="210.3" width="100.4" height="90.1" fill="#e2e2e2" stroke="#7a7a7a" stroke-width="1"/>
<rect x="403.4" y="223.1" width="72.4" height="43.2" fill="none" stroke="#4a4a4a" stroke-width="0.9" stroke-dasharray="1.2,1.2"/>
<rect x="403.4" y="277.1" width="72.4" height="17.2" fill="none" stroke="#4a4a4a" stroke-width="0.9" stroke-dasharray="1.2,1.2"/>
<text x="430.7" y="221.4" font-size="9.4" fill="#222" textLength="21.44" lengthAdjust="spacingAndGlyphs" >Rock</text>
<text x="431.7" y="277" font-size="9.4" fill="#222" textLength="15.93" lengthAdjust="spacingAndGlyphs" >Bolt</text>
<text x="393.2" y="244.6" font-size="8.5" fill="#222" >σ</text>
<line x1="400.6" y1="248.6" x2="407" y2="248.6" stroke="#555" stroke-width="1" />
<polyline points="407.0,248.6 408.0,245.6 410.0,251.6 412.0,245.6 414.0,251.6 416.1,245.6 418.1,251.6 420.1,245.6 422.1,251.6 423.1,248.6" fill="none" stroke="#555" stroke-width="1" stroke-linejoin="round" />
<line x1="423.1" y1="248.6" x2="433.8" y2="248.6" stroke="#555" stroke-width="1" />
<line x1="433.8" y1="236.8" x2="433.8" y2="259.9" stroke="#555" stroke-width="1" />
<line x1="433.8" y1="236.8" x2="446.6" y2="236.8" stroke="#555" stroke-width="1" />
<polyline points="446.6,236.8 447.4,233.8 449.0,239.8 450.6,233.8 452.2,239.8 453.9,233.8 455.5,239.8 457.1,233.8 458.7,239.8 459.5,236.8" fill="none" stroke="#555" stroke-width="1" stroke-linejoin="round" />
<line x1="459.5" y1="236.8" x2="472.9" y2="236.8" stroke="#555" stroke-width="1" />
<line x1="472.9" y1="236.8" x2="472.9" y2="259.9" stroke="#555" stroke-width="1" />
<line x1="433.8" y1="259.9" x2="446.6" y2="259.9" stroke="#555" stroke-width="1" />
<rect x="446.6" y="257.29999999999995" width="10.3" height="5.2" fill="none" stroke="#555" stroke-width="1"/>
<line x1="456.90000000000003" y1="256.5" x2="456.90000000000003" y2="263.29999999999995" stroke="#555" stroke-width="1.2" />
<line x1="456.90000000000003" y1="256.5" x2="461.0" y2="256.5" stroke="#555" stroke-width="1" />
<line x1="456.90000000000003" y1="263.29999999999995" x2="461.0" y2="263.29999999999995" stroke="#555" stroke-width="1" />
<line x1="461" y1="259.9" x2="472.9" y2="259.9" stroke="#555" stroke-width="1" />
<line x1="472.5" y1="248.2" x2="478.6" y2="248.2" stroke="#555" stroke-width="1" />
<line x1="478.6" y1="248.2" x2="478.6" y2="286" stroke="#555" stroke-width="1.1" />
<line x1="400.6" y1="248.6" x2="400.6" y2="286" stroke="#555" stroke-width="1.1" />
<line x1="397" y1="264.3" x2="400.6" y2="264.3" stroke="#555" stroke-width="1" />
<polygon points="393.8,264.3 397.8,262.4 397.8,266.2" fill="#222"/>
<line x1="478.6" y1="264.5" x2="483" y2="264.5" stroke="#555" stroke-width="1" />
<polygon points="486.4,264.5 482.4,262.6 482.4,266.4" fill="#222"/>
<text x="412" y="242.8" font-size="8.5" fill="#222" >k<tspan font-size="5" dy="1.5">1</tspan></text>
<text x="451" y="231.8" font-size="8.5" fill="#222" >k<tspan font-size="5" dy="1.5">2</tspan></text>
<text x="450" y="256.6" font-size="8.5" fill="#222" font-style="italic">η<tspan font-size="5" dy="1.5">1</tspan></text>
<line x1="400.6" y1="286" x2="408.9" y2="286" stroke="#555" stroke-width="1.1" />
<polyline points="408.9,286.0 410.0,283.2 412.2,288.8 414.4,283.2 416.5,288.8 418.7,283.2 420.9,288.8 422.0,286.0" fill="none" stroke="#555" stroke-width="1" stroke-linejoin="round" />
<polyline points="422.0,286.0 427.3,286.0 429.0,290.0 434.5,290.0" fill="none" stroke="#555" stroke-width="1" stroke-linejoin="round" />
<line x1="430.8" y1="286" x2="439.6" y2="286" stroke="#555" stroke-width="1" />
<polyline points="439.6,286.0 440.6,283.2 442.5,288.8 444.4,283.2 446.2,288.8 448.1,283.2 450.1,288.8 451.0,286.0" fill="none" stroke="#555" stroke-width="1" stroke-linejoin="round" />
<line x1="451" y1="286" x2="454.9" y2="286" stroke="#555" stroke-width="1" />
<circle cx="456.2" cy="286" r="1.3" fill="none" stroke="#555" stroke-width="0.8"/>
<line x1="457.5" y1="286" x2="458.8" y2="286" stroke="#555" stroke-width="1" />
<polyline points="458.8,286.0 459.8,283.2 461.9,288.8 463.9,283.2 466.0,288.8 468.0,283.2 470.1,288.8 471.1,286.0" fill="none" stroke="#555" stroke-width="1" stroke-linejoin="round" />
<line x1="471.1" y1="286" x2="478.6" y2="286" stroke="#555" stroke-width="1.1" />
<text x="426.8" y="206.4" font-size="8.6" fill="#222" textLength="38.7" lengthAdjust="spacingAndGlyphs" font-style="italic" font-weight="bold">σ<tspan font-size="5" dy="1.5">r</tspan><tspan dy="-1.5">&lt;</tspan>σ<tspan font-size="5" dy="1.5">b</tspan><tspan dy="-1.5">&lt;</tspan>σ<tspan font-size="5" dy="1.5">f</tspan></text>
<text x="371.4" y="214.8" font-size="10.2" fill="#222" textLength="15.18" lengthAdjust="spacingAndGlyphs" >(d)</text>
<line x1="365.9" y1="216" x2="365.9" y2="391.5" stroke="#8a8a8a" stroke-width="1.7" />
<line x1="365.9" y1="391.5" x2="369.5" y2="391.5" stroke="#333" stroke-width="1" />
<line x1="365.9" y1="333.0" x2="369.5" y2="333.0" stroke="#333" stroke-width="1" />
<line x1="365.9" y1="274.5" x2="369.5" y2="274.5" stroke="#333" stroke-width="1" />
<line x1="365.9" y1="216.0" x2="369.5" y2="216.0" stroke="#333" stroke-width="1" />
<line x1="365.9" y1="362.25" x2="367.9" y2="362.25" stroke="#333" stroke-width="1" />
<line x1="365.9" y1="303.75" x2="367.9" y2="303.75" stroke="#333" stroke-width="1" />
<line x1="365.9" y1="245.25" x2="367.9" y2="245.25" stroke="#333" stroke-width="1" />
<text x="361.6" y="394.9" font-size="8.6" fill="#333" text-anchor="end" >0</text>
<text x="361.6" y="336.4" font-size="8.6" fill="#333" text-anchor="end" >2</text>
<text x="361.6" y="277.9" font-size="8.6" fill="#333" text-anchor="end" >4</text>
<text x="361.6" y="219.4" font-size="8.6" fill="#333" text-anchor="end" >6</text>
<line x1="365.9" y1="391.5" x2="679.7" y2="391.5" stroke="#444" stroke-width="1.3" />
<line x1="365.9" y1="391.5" x2="365.9" y2="387.5" stroke="#333" stroke-width="1" />
<line x1="418.2" y1="391.5" x2="418.2" y2="387.5" stroke="#333" stroke-width="1" />
<line x1="470.5" y1="391.5" x2="470.5" y2="387.5" stroke="#333" stroke-width="1" />
<line x1="522.8" y1="391.5" x2="522.8" y2="387.5" stroke="#333" stroke-width="1" />
<line x1="575.1" y1="391.5" x2="575.1" y2="387.5" stroke="#333" stroke-width="1" />
<line x1="627.4" y1="391.5" x2="627.4" y2="387.5" stroke="#333" stroke-width="1" />
<line x1="679.7" y1="391.5" x2="679.7" y2="387.5" stroke="#333" stroke-width="1" />
<line x1="392.04999999999995" y1="391.5" x2="392.04999999999995" y2="389.5" stroke="#333" stroke-width="1" />
<line x1="444.34999999999997" y1="391.5" x2="444.34999999999997" y2="389.5" stroke="#333" stroke-width="1" />
<line x1="496.65" y1="391.5" x2="496.65" y2="389.5" stroke="#333" stroke-width="1" />
<line x1="548.95" y1="391.5" x2="548.95" y2="389.5" stroke="#333" stroke-width="1" />
<line x1="601.25" y1="391.5" x2="601.25" y2="389.5" stroke="#333" stroke-width="1" />
<line x1="653.55" y1="391.5" x2="653.55" y2="389.5" stroke="#333" stroke-width="1" />
<text x="365.9" y="402.6" font-size="8.6" fill="#333" text-anchor="middle" >0</text>
<text x="418.2" y="402.6" font-size="8.6" fill="#333" text-anchor="middle" >5</text>
<text x="470.5" y="402.6" font-size="8.6" fill="#333" text-anchor="middle" >10</text>
<text x="522.8" y="402.6" font-size="8.6" fill="#333" text-anchor="middle" >15</text>
<text x="575.1" y="402.6" font-size="8.6" fill="#333" text-anchor="middle" >20</text>
<text x="627.4" y="402.6" font-size="8.6" fill="#333" text-anchor="middle" >25</text>
<text x="679.7" y="402.6" font-size="8.6" fill="#333" text-anchor="middle" >30</text>
<text x="501.4" y="417.5" font-size="10.2" fill="#222" textLength="89.01" lengthAdjust="spacingAndGlyphs" >Number of cycles</text>
<text transform="translate(354,377.5) rotate(-90)" x="0" y="0" font-size="10.2" fill="#222" textLength="122.29999999999998" lengthAdjust="spacingAndGlyphs">Energy density (mJ· m<tspan font-size="7.8" dy="-4">-3</tspan><tspan dy="4">)</tspan></text>
<line x1="365.6" y1="383.7" x2="678" y2="383.7" stroke="#e8383d" stroke-width="1.6" stroke-dasharray="3.6,3.9" opacity="0.65"/>
<polyline points="376.4,390.7 386.8,390.5 397.3,390.2 407.7,390.0 418.2,389.7 428.7,389.4 439.1,389.2 449.6,388.9 460.0,388.7 470.5,388.4 481.0,388.1 491.4,387.9 501.9,387.6 512.3,387.4 522.8,387.1 533.3,386.8 543.7,386.6 554.2,386.3 564.6,386.1 575.1,385.8 585.6,385.5 596.0,385.3 606.5,385.0 616.9,384.8 627.4,384.5 637.9,384.2 648.3,384.0 658.8,383.7" fill="none" stroke="#5cc080" stroke-width="1" stroke-linejoin="round" />
<polyline points="376.4,385.6 386.8,379.9 397.3,373.9 407.7,367.8 418.2,361.5 428.7,355.7 439.1,350.0 449.6,344.0 460.0,337.9 470.5,331.9 481.0,325.9 491.4,320.4 501.9,313.8 512.3,308.0 522.8,302.1 533.3,296.1 543.7,290.3 554.2,284.6 564.6,278.6 575.1,272.8 585.6,267.1 596.0,260.6 606.5,254.8 616.9,248.5 627.4,242.5 637.9,236.5 648.3,230.5 658.8,224.5" fill="none" stroke="#3a3a3a" stroke-width="1" stroke-linejoin="round" />
<polyline points="376.4,387.2 386.8,384.4 397.3,381.5 407.7,378.6 418.2,375.8 428.7,372.9 439.1,370.0 449.6,367.1 460.0,364.3 470.5,361.4 481.0,358.5 491.4,355.7 501.9,352.8 512.3,349.9 522.8,347.1 533.3,344.2 543.7,341.3 554.2,338.4 564.6,335.6 575.1,332.7 585.6,329.8 596.0,327.0 606.5,324.1 616.9,321.2 627.4,318.4 637.9,315.5 648.3,312.6 658.8,309.7" fill="none" stroke="#e8383d" stroke-width="1" stroke-linejoin="round" />
<polyline points="376.4,388.3 386.8,385.5 397.3,382.8 407.7,380.0 418.2,377.3 428.7,374.6 439.1,371.8 449.6,369.1 460.0,366.3 470.5,363.6 481.0,360.9 491.4,358.1 501.9,355.4 512.3,352.6 522.8,349.9 533.3,347.2 543.7,344.4 554.2,341.7 564.6,338.9 575.1,336.2 585.6,333.5 596.0,330.7 606.5,328.0 616.9,325.2 627.4,322.5 637.9,319.8 648.3,317.0 658.8,314.3" fill="none" stroke="#1f6ad8" stroke-width="1" stroke-linejoin="round" />
<rect x="374.2" y="383.4" width="4.4" height="4.4" fill="#4a4a4a"/>
<rect x="384.6" y="377.7" width="4.4" height="4.4" fill="#4a4a4a"/>
<rect x="395.1" y="371.7" width="4.4" height="4.4" fill="#4a4a4a"/>
<rect x="405.5" y="365.6" width="4.4" height="4.4" fill="#4a4a4a"/>
<rect x="416.0" y="359.3" width="4.4" height="4.4" fill="#4a4a4a"/>
<rect x="426.5" y="353.5" width="4.4" height="4.4" fill="#4a4a4a"/>
<rect x="436.9" y="347.8" width="4.4" height="4.4" fill="#4a4a4a"/>
<rect x="447.4" y="341.8" width="4.4" height="4.4" fill="#4a4a4a"/>
<rect x="457.8" y="335.7" width="4.4" height="4.4" fill="#4a4a4a"/>
<rect x="468.3" y="329.7" width="4.4" height="4.4" fill="#4a4a4a"/>
<rect x="478.8" y="323.7" width="4.4" height="4.4" fill="#4a4a4a"/>
<rect x="489.2" y="318.2" width="4.4" height="4.4" fill="#4a4a4a"/>
<rect x="499.7" y="311.6" width="4.4" height="4.4" fill="#4a4a4a"/>
<rect x="510.1" y="305.8" width="4.4" height="4.4" fill="#4a4a4a"/>
<rect x="520.6" y="299.9" width="4.4" height="4.4" fill="#4a4a4a"/>
<rect x="531.1" y="293.9" width="4.4" height="4.4" fill="#4a4a4a"/>
<rect x="541.5" y="288.1" width="4.4" height="4.4" fill="#4a4a4a"/>
<rect x="552.0" y="282.4" width="4.4" height="4.4" fill="#4a4a4a"/>
<rect x="562.4" y="276.4" width="4.4" height="4.4" fill="#4a4a4a"/>
<rect x="572.9" y="270.6" width="4.4" height="4.4" fill="#4a4a4a"/>
<rect x="583.4" y="264.9" width="4.4" height="4.4" fill="#4a4a4a"/>
<rect x="593.8" y="258.4" width="4.4" height="4.4" fill="#4a4a4a"/>
<rect x="604.3" y="252.6" width="4.4" height="4.4" fill="#4a4a4a"/>
<rect x="614.7" y="246.3" width="4.4" height="4.4" fill="#4a4a4a"/>
<rect x="625.2" y="240.3" width="4.4" height="4.4" fill="#4a4a4a"/>
<rect x="635.7" y="234.3" width="4.4" height="4.4" fill="#4a4a4a"/>
<rect x="646.1" y="228.3" width="4.4" height="4.4" fill="#4a4a4a"/>
<rect x="656.6" y="222.3" width="4.4" height="4.4" fill="#4a4a4a"/>
<circle cx="376.4" cy="387.2" r="2.4" fill="#e8383d"/>
<circle cx="386.8" cy="384.4" r="2.4" fill="#e8383d"/>
<circle cx="397.3" cy="381.5" r="2.4" fill="#e8383d"/>
<circle cx="407.7" cy="378.6" r="2.4" fill="#e8383d"/>
<circle cx="418.2" cy="375.8" r="2.4" fill="#e8383d"/>
<circle cx="428.7" cy="372.9" r="2.4" fill="#e8383d"/>
<circle cx="439.1" cy="370.0" r="2.4" fill="#e8383d"/>
<circle cx="449.6" cy="367.1" r="2.4" fill="#e8383d"/>
<circle cx="460.0" cy="364.3" r="2.4" fill="#e8383d"/>
<circle cx="470.5" cy="361.4" r="2.4" fill="#e8383d"/>
<circle cx="481.0" cy="358.5" r="2.4" fill="#e8383d"/>
<circle cx="491.4" cy="355.7" r="2.4" fill="#e8383d"/>
<circle cx="501.9" cy="352.8" r="2.4" fill="#e8383d"/>
<circle cx="512.3" cy="349.9" r="2.4" fill="#e8383d"/>
<circle cx="522.8" cy="347.1" r="2.4" fill="#e8383d"/>
<circle cx="533.3" cy="344.2" r="2.4" fill="#e8383d"/>
<circle cx="543.7" cy="341.3" r="2.4" fill="#e8383d"/>
<circle cx="554.2" cy="338.4" r="2.4" fill="#e8383d"/>
<circle cx="564.6" cy="335.6" r="2.4" fill="#e8383d"/>
<circle cx="575.1" cy="332.7" r="2.4" fill="#e8383d"/>
<circle cx="585.6" cy="329.8" r="2.4" fill="#e8383d"/>
<circle cx="596.0" cy="327.0" r="2.4" fill="#e8383d"/>
<circle cx="606.5" cy="324.1" r="2.4" fill="#e8383d"/>
<circle cx="616.9" cy="321.2" r="2.4" fill="#e8383d"/>
<circle cx="627.4" cy="318.4" r="2.4" fill="#e8383d"/>
<circle cx="637.9" cy="315.5" r="2.4" fill="#e8383d"/>
<circle cx="648.3" cy="312.6" r="2.4" fill="#e8383d"/>
<circle cx="658.8" cy="309.7" r="2.4" fill="#e8383d"/>
<polygon points="373.8,390.7 379.0,390.7 376.4,385.9" fill="#1f6ad8"/>
<polygon points="384.2,387.9 389.4,387.9 386.8,383.1" fill="#1f6ad8"/>
<polygon points="394.7,385.2 399.9,385.2 397.3,380.4" fill="#1f6ad8"/>
<polygon points="405.1,382.4 410.3,382.4 407.7,377.6" fill="#1f6ad8"/>
<polygon points="415.6,379.7 420.8,379.7 418.2,374.9" fill="#1f6ad8"/>
<polygon points="426.1,377.0 431.3,377.0 428.7,372.2" fill="#1f6ad8"/>
<polygon points="436.5,374.2 441.7,374.2 439.1,369.4" fill="#1f6ad8"/>
<polygon points="447.0,371.5 452.2,371.5 449.6,366.7" fill="#1f6ad8"/>
<polygon points="457.4,368.7 462.6,368.7 460.0,363.9" fill="#1f6ad8"/>
<polygon points="467.9,366.0 473.1,366.0 470.5,361.2" fill="#1f6ad8"/>
<polygon points="478.4,363.3 483.6,363.3 481.0,358.5" fill="#1f6ad8"/>
<polygon points="488.8,360.5 494.0,360.5 491.4,355.7" fill="#1f6ad8"/>
<polygon points="499.3,357.8 504.5,357.8 501.9,353.0" fill="#1f6ad8"/>
<polygon points="509.7,355.0 514.9,355.0 512.3,350.2" fill="#1f6ad8"/>
<polygon points="520.2,352.3 525.4,352.3 522.8,347.5" fill="#1f6ad8"/>
<polygon points="530.7,349.6 535.9,349.6 533.3,344.8" fill="#1f6ad8"/>
<polygon points="541.1,346.8 546.3,346.8 543.7,342.0" fill="#1f6ad8"/>
<polygon points="551.6,344.1 556.8,344.1 554.2,339.3" fill="#1f6ad8"/>
<polygon points="562.0,341.3 567.2,341.3 564.6,336.5" fill="#1f6ad8"/>
<polygon points="572.5,338.6 577.7,338.6 575.1,333.8" fill="#1f6ad8"/>
<polygon points="583.0,335.9 588.2,335.9 585.6,331.1" fill="#1f6ad8"/>
<polygon points="593.4,333.1 598.6,333.1 596.0,328.3" fill="#1f6ad8"/>
<polygon points="603.9,330.4 609.1,330.4 606.5,325.6" fill="#1f6ad8"/>
<polygon points="614.3,327.6 619.5,327.6 616.9,322.8" fill="#1f6ad8"/>
<polygon points="624.8,324.9 630.0,324.9 627.4,320.1" fill="#1f6ad8"/>
<polygon points="635.3,322.2 640.5,322.2 637.9,317.4" fill="#1f6ad8"/>
<polygon points="645.7,319.4 650.9,319.4 648.3,314.6" fill="#1f6ad8"/>
<polygon points="656.2,316.7 661.4,316.7 658.8,311.9" fill="#1f6ad8"/>
<polygon points="373.8,388.3 379.0,388.3 376.4,393.1" fill="#2aa05a"/>
<polygon points="384.2,388.1 389.4,388.1 386.8,392.9" fill="#2aa05a"/>
<polygon points="394.7,387.8 399.9,387.8 397.3,392.6" fill="#2aa05a"/>
<polygon points="405.1,387.6 410.3,387.6 407.7,392.4" fill="#2aa05a"/>
<polygon points="415.6,387.3 420.8,387.3 418.2,392.1" fill="#2aa05a"/>
<polygon points="426.1,387.0 431.3,387.0 428.7,391.8" fill="#2aa05a"/>
<polygon points="436.5,386.8 441.7,386.8 439.1,391.6" fill="#2aa05a"/>
<polygon points="447.0,386.5 452.2,386.5 449.6,391.3" fill="#2aa05a"/>
<polygon points="457.4,386.3 462.6,386.3 460.0,391.1" fill="#2aa05a"/>
<polygon points="467.9,386.0 473.1,386.0 470.5,390.8" fill="#2aa05a"/>
<polygon points="478.4,385.7 483.6,385.7 481.0,390.5" fill="#2aa05a"/>
<polygon points="488.8,385.5 494.0,385.5 491.4,390.3" fill="#2aa05a"/>
<polygon points="499.3,385.2 504.5,385.2 501.9,390.0" fill="#2aa05a"/>
<polygon points="509.7,385.0 514.9,385.0 512.3,389.8" fill="#2aa05a"/>
<polygon points="520.2,384.7 525.4,384.7 522.8,389.5" fill="#2aa05a"/>
<polygon points="530.7,384.4 535.9,384.4 533.3,389.2" fill="#2aa05a"/>
<polygon points="541.1,384.2 546.3,384.2 543.7,389.0" fill="#2aa05a"/>
<polygon points="551.6,383.9 556.8,383.9 554.2,388.7" fill="#2aa05a"/>
<polygon points="562.0,383.7 567.2,383.7 564.6,388.5" fill="#2aa05a"/>
<polygon points="572.5,383.4 577.7,383.4 575.1,388.2" fill="#2aa05a"/>
<polygon points="583.0,383.1 588.2,383.1 585.6,387.9" fill="#2aa05a"/>
<polygon points="593.4,382.9 598.6,382.9 596.0,387.7" fill="#2aa05a"/>
<polygon points="603.9,382.6 609.1,382.6 606.5,387.4" fill="#2aa05a"/>
<polygon points="614.3,382.4 619.5,382.4 616.9,387.2" fill="#2aa05a"/>
<polygon points="624.8,382.1 630.0,382.1 627.4,386.9" fill="#2aa05a"/>
<polygon points="635.3,381.8 640.5,381.8 637.9,386.6" fill="#2aa05a"/>
<polygon points="645.7,381.6 650.9,381.6 648.3,386.4" fill="#2aa05a"/>
<polygon points="656.2,381.3 661.4,381.3 658.8,386.1" fill="#2aa05a"/>
<rect x="523.9" y="205.1" width="145.7" height="81.8" fill="#f2f2f2" fill-opacity="0.72" stroke="#9a9a9a" stroke-width="1"/>
<line x1="529.5" y1="211.7" x2="550" y2="211.7" stroke="#555" stroke-width="1" />
<rect x="537.6" y="209.6" width="4.2" height="4.2" fill="#4a4a4a"/>
<line x1="529.5" y1="223.4" x2="550" y2="223.4" stroke="#e8383d" stroke-width="1" />
<circle cx="539.7" cy="223.4" r="2.5" fill="#e8383d"/>
<line x1="529.5" y1="246.7" x2="550" y2="246.7" stroke="#1f6ad8" stroke-width="1" />
<polygon points="537.0,249.1 542.4,249.1 539.7,244.3" fill="#1f6ad8"/>
<line x1="529.5" y1="257.7" x2="550" y2="257.7" stroke="#2aa05a" stroke-width="1" />
<polygon points="537.0,255.3 542.4,255.3 539.7,260.1" fill="#2aa05a"/>
<line x1="529.5" y1="269.4" x2="550" y2="269.4" stroke="#e8383d" stroke-width="1.2" stroke-dasharray="3.5,3.5"/>
<text x="555.0" y="216.0" font-size="10.4" fill="#222" textLength="83.11" lengthAdjust="spacingAndGlyphs" >Input energy U` `</text>
<text x="555.0" y="227.6" font-size="10.4" fill="#222" textLength="72.79" lengthAdjust="spacingAndGlyphs" >Bolt dissipates</text>
<text x="554.5" y="238.4" font-size="10.4" fill="#222" textLength="78.36" lengthAdjust="spacingAndGlyphs" >strain energy U<tspan font-size="5.5" dy="1.5">r</tspan></text>
<text x="555.0" y="250.8" font-size="10.4" fill="#222" textLength="96.25" lengthAdjust="spacingAndGlyphs" >Elastic energy U<tspan font-size="5.5" dy="1.5">e</tspan><tspan dy="-1.5">` `</tspan></text>
<text x="555.0" y="261.9" font-size="10.4" fill="#222" textLength="113.72" lengthAdjust="spacingAndGlyphs" >Dissipated energy  U<tspan font-size="5.5" dy="1.5">d</tspan><tspan dy="-1.5">` `</tspan></text>
<text x="553.2" y="273.2" font-size="10.4" fill="#222" textLength="98.63" lengthAdjust="spacingAndGlyphs" >Cumulative damage</text>
<text x="550.0" y="282.9" font-size="10.4" fill="#222" textLength="100.0" lengthAdjust="spacingAndGlyphs" >energy during failure</text>
</svg></body></html>
